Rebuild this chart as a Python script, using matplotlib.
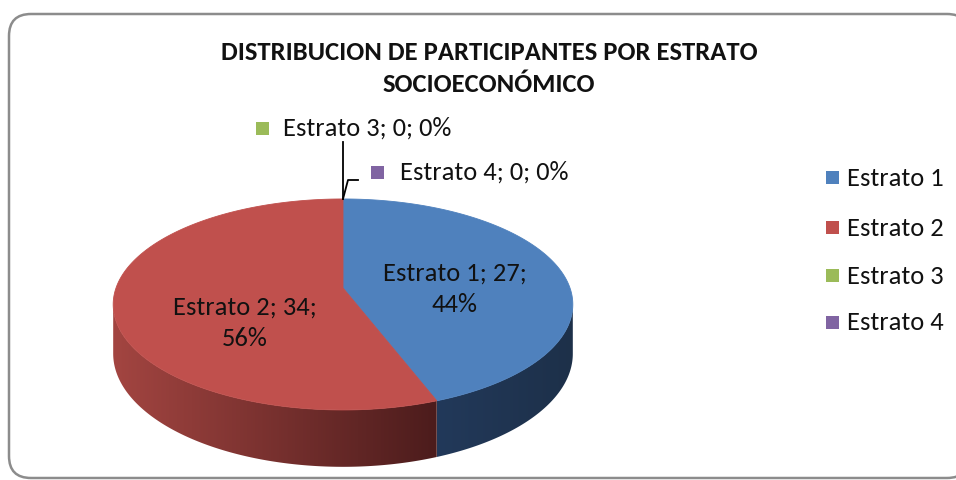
import numpy as np
import matplotlib
matplotlib.use("Agg")
import matplotlib.pyplot as plt
from matplotlib import font_manager
from matplotlib.patches import Polygon, FancyBboxPatch, Rectangle
from matplotlib.colors import to_rgb

# ---------------- data ----------------
categories = ["Estrato 1", "Estrato 2", "Estrato 3", "Estrato 4"]
values = [27, 34, 0, 0]
colors = ["#4F81BD", "#C0504D", "#9BBB59", "#8064A2"]
side_left = ["#22395A", "#A34541", "#7A9446", "#65507F"]
side_right = ["#1D3049", "#4C1C1C", "#5A6E33", "#4A3A5E"]
title_lines = ["DISTRIBUCION DE PARTICIPANTES POR ESTRATO", "SOCIOECONÓMICO"]

installed = {f.name for f in font_manager.fontManager.ttflist}
FONT = next((f for f in ["Carlito", "Lato", "DejaVu Sans"] if f in installed), "DejaVu Sans")

fig = plt.figure(figsize=(9.56, 4.80), dpi=100)
ax = fig.add_axes([0, 0, 1, 1])
ax.set_xlim(0, 956)
ax.set_ylim(480, 0)
ax.axis("off")
renderer = fig.canvas.get_renderer()


def fit_size(text, target_w, weight="normal"):
    t = ax.text(0, 0, text, fontsize=10, family=FONT, weight=weight)
    w = t.get_window_extent(renderer=renderer).width
    t.remove()
    return 10 * target_w / w


# chart border
ax.add_patch(FancyBboxPatch((9, 14), 960, 464, boxstyle="round,pad=0,rounding_size=22",
                            facecolor="white", edgecolor="#8C8C8C", linewidth=1.8, zorder=0))

# ---------------- pie geometry (perspective ellipse) ----------------
cx, A, B, k, R, D = 343.0, 288.0, -58.0, 0.156, 227.0, 48.0


def top_pt(th):
    u, v = np.sin(th), np.cos(th)
    s = 1.0 / (1.0 + k * v)
    return cx + R * u * s, (A + B * v) / (1.0 + k * v)


def bot_pt(th):
    x, y = top_pt(th)
    s = 1.0 / (1.0 + k * np.cos(th))
    return x, y + D * s


total = float(sum(values))
fracs = [v / total for v in values]
bounds = np.concatenate([[0.0], np.cumsum(fracs)]) * 2 * np.pi
vis_lo = np.arccos(-k)
vis_hi = 2 * np.pi - vis_lo

# side walls
for i in range(len(values)):
    a0, a1 = bounds[i], bounds[i + 1]
    lo, hi = max(a0, vis_lo), min(a1, vis_hi)
    if hi <= lo:
        continue
    th = np.linspace(lo, hi, 200)
    xt, yt = top_pt(th)
    xb, yb = bot_pt(th)
    px = np.concatenate([xt, xb[::-1]])
    py = np.concatenate([yt, yb[::-1]])
    poly = Polygon(np.column_stack([px, py]), closed=True, facecolor="none",
                   edgecolor="none", zorder=1)
    ax.add_patch(poly)
    xmin, xmax = px.min(), px.max()
    ymin, ymax = py.min(), py.max()
    cl, cr = np.array(to_rgb(side_left[i])), np.array(to_rgb(side_right[i]))
    tgrad = np.linspace(0, 1, 256)[None, :, None]
    img = cl + (cr - cl) * tgrad
    im = ax.imshow(img, extent=[xmin, xmax, ymax, ymin], aspect="auto",
                   interpolation="bilinear", zorder=1)
    im.set_clip_path(poly)

# top faces
for i in range(len(values)):
    a0, a1 = bounds[i], bounds[i + 1]
    if a1 - a0 <= 0:
        continue
    th = np.linspace(a0, a1, 300)
    xt, yt = top_pt(th)
    apex = (cx, A)
    pts = np.vstack([[apex], np.column_stack([xt, yt])])
    ax.add_patch(Polygon(pts, closed=True, facecolor=colors[i], edgecolor=colors[i],
                         linewidth=0.6, zorder=2))
ax.set_xlim(0, 956)
ax.set_ylim(480, 0)

# ---------------- texts ----------------
fs = fit_size("Estrato 3; 0; 0%", 169)
fs_t = fit_size(title_lines[0], 535, "bold")

ax.text(489, 52, title_lines[0], ha="center", va="center", fontsize=fs_t,
        family=FONT, weight="bold", color="#111111")
ax.text(489, 84, title_lines[1], ha="center", va="center", fontsize=fs_t,
        family=FONT, weight="bold", color="#111111")

pcts = [round(100 * f) for f in fracs]
lab = [f"{c}; {v}; {p}%" for c, v, p in zip(categories, values, pcts)]

# slice labels (inside)
inside_pos = [(455, 273, 305), (245, 307, 339)]
for i, (x, y1, y2) in enumerate(inside_pos):
    l1 = f"{categories[i]}; {values[i]};"
    l2 = f"{pcts[i]}%"
    ax.text(x, y1, l1, ha="center", va="center", fontsize=fs, family=FONT,
            color="#111111", zorder=5)
    ax.text(x, y2, l2, ha="center", va="center", fontsize=fs, family=FONT,
            color="#111111", zorder=5)

# zero-slice labels with keys and leaders
x0, y0 = top_pt(bounds[2])
ax.plot([x0, x0], [y0, 142], color="black", lw=1.3, zorder=4)
ax.plot([x0, x0 + 5, x0 + 15], [y0, 180, 180], color="black", lw=1.3, zorder=4)
outside = [(2, 256, 128, 283), (3, 371, 172, 400)]
for i, sx, sy, tx in outside:
    ax.add_patch(Rectangle((sx, sy - 6.5), 13, 13, facecolor=colors[i], edgecolor="none", zorder=4))
    ax.text(tx, sy, lab[i], ha="left", va="center", fontsize=fs, family=FONT,
            color="#111111", zorder=5)

# legend
leg_y = [178, 228, 276, 323]
for i, c in enumerate(categories):
    ax.add_patch(Rectangle((826, leg_y[i] - 7), 13, 13, facecolor=colors[i], edgecolor="none", zorder=4))
    ax.text(847, leg_y[i], c, ha="left", va="center", fontsize=fs, family=FONT,
            color="#111111", zorder=5)

fig.savefig("out.png", dpi=100)
